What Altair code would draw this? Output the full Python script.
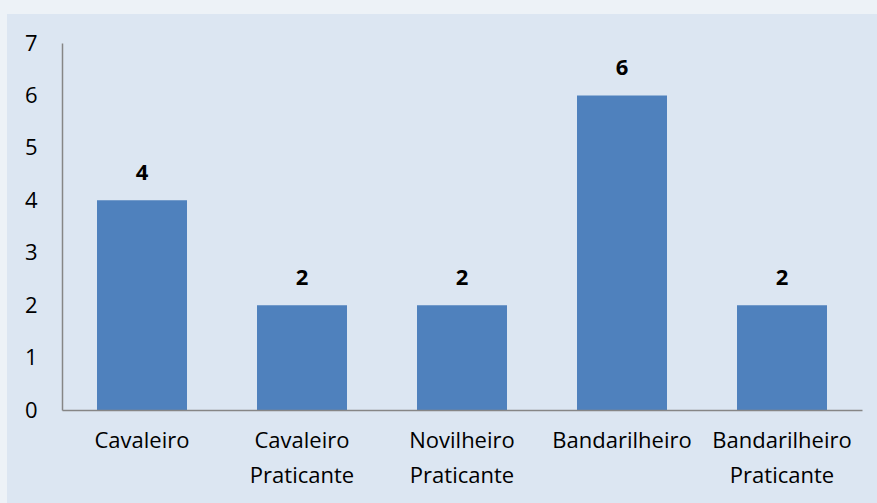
import altair as alt
import pandas as pd

categories = ["Cavaleiro", "Cavaleiro\nPraticante", "Novilheiro\nPraticante", "Bandarilheiro", "Bandarilheiro\nPraticante"]
values = [4, 2, 2, 6, 2]

df = pd.DataFrame({"cat": categories, "val": values})

FONT = "Open Sans"
FS = 22

x = alt.X("cat:N", sort=categories, title=None,
          scale=alt.Scale(paddingInner=0, paddingOuter=0),
          axis=alt.Axis(labelAngle=0, labelExpr="split(datum.label, '\\n')",
                        labelFontSize=FS, labelFont=FONT, labelColor="#000000",
                        labelLineHeight=35, labelPadding=20, ticks=False, zindex=1,
                        domainColor="#868686", domainWidth=1.5, labelLimit=200))
y = alt.Y("val:Q", title=None,
          scale=alt.Scale(domain=[0, 7], nice=False),
          axis=alt.Axis(values=[0, 1, 2, 3, 4, 5, 6, 7], format="d", grid=False, ticks=False, zindex=1,
                        labelFontSize=FS, labelFont=FONT, labelColor="#000000",
                        labelPadding=25, domainColor="#868686", domainWidth=1.5))

bg = alt.Chart(df).mark_rect(color="#dce6f2").encode(
    x=alt.value(-55), x2=alt.value(815), y=alt.value(-29), y2=alt.value(93 + 367)
)

bars = alt.Chart(df).mark_bar(size=90, color="#4f81bd").encode(x=x, y=y)

text = alt.Chart(df).mark_text(dy=-20, baseline="alphabetic", fontWeight="bold",
                               fontSize=FS, font=FONT, color="#000000").encode(
    x=alt.X("cat:N", sort=categories), y="val:Q", text="val:Q")

chart = alt.layer(bg, bars, text).properties(
    width=800, height=367,
    background="#edf2f7",
    padding={"left": 62, "top": 43, "right": 15, "bottom": 93},
    autosize=alt.AutoSizeParams(type="none"),
).configure_view(stroke=None)

chart.save("out.html", embed_options={"renderer": "svg", "actions": False})
